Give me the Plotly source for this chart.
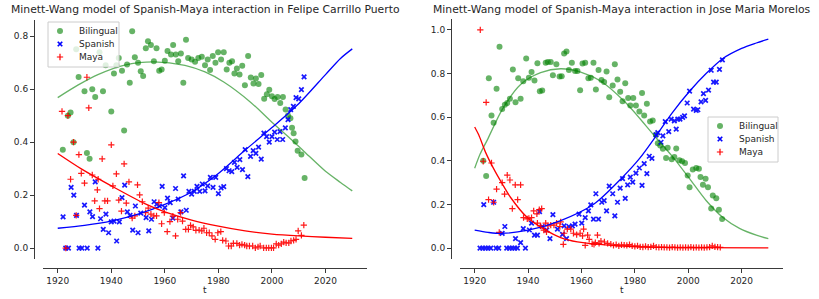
import plotly.graph_objects as go

# ---------------- Felipe Carrillo Puerto (left) ----------------
fcp_bil_t = [1921.9,1923.8,1924.8,1925.9,1926.9,1927.8,1930.0,1930.9,1931.9,1932.9,1934.0,1935.6,1936.9,1937.9,1940.0,
             1941.0,1941.9,1942.8,1944.0,1944.8,1945.9,1946.9,1947.8,1948.8,1950.0,1951.0,1951.9,1952.9,1953.7,1954.8,
             1955.9,1956.9,1957.9,1958.8,1960.0,1961.0,1962.3,1963.1,1964.1,1965.0,1966.0,1966.9,1967.9,1968.7,1970.0,
             1971.3,1972.5,1973.8,1975.0,1976.0,1976.9,1977.9,1978.9,1979.9,1981.0,1982.0,1983.1,1984.1,1985.1,1986.0,
             1986.9,1987.9,1988.9,1989.9,1991.1,1992.1,1993.1,1994.0,1995.0,1996.0,1997.1,1998.1,1999.0,2000.0,2001.0,
             2002.1,2003.1,2004.1,2005.1,2006.0,2006.9,2007.5,2008.1,2008.8,2009.6,2011.0,2012.2]
fcp_bil_v = [0.371,0.50,0.512,0.40,0.751,0.646,0.592,0.359,0.337,0.60,0.57,0.739,0.592,0.69,0.516,
             0.659,0.69,0.718,0.669,0.444,0.693,0.624,0.819,0.72,0.70,0.668,0.65,0.754,0.781,0.767,
             0.705,0.754,0.669,0.674,0.707,0.744,0.731,0.767,0.731,0.705,0.735,0.624,0.786,0.718,0.712,
             0.703,0.718,0.722,0.69,0.712,0.672,0.725,0.70,0.739,0.712,0.739,0.674,0.70,0.705,0.659,
             0.678,0.655,0.688,0.615,0.725,0.644,0.621,0.64,0.619,0.653,0.564,0.581,0.598,0.573,0.563,
             0.57,0.548,0.57,0.523,0.501,0.49,0.454,0.434,0.402,0.368,0.353,0.265]

fcp_spa_t = [1922,1923,1924,1925,1926,1927,1928,1929,1930,1931,1932,1933,1934,1935,1936,1937,1938,1939,1940,1941,
             1942,1943,1944,1945,1946,1947,1948,1949,1950,1951,1953,1954,1955,1956,1957,1958,1959,1960,1961,1962,
             1963,1964,1965,1966,1967,1968,1969,1970,1971,1972,1973,1974,1975,1976,1977,1978,1979,1980,1981,1982,
             1983,1984,1985,1986,1987,1988,1989,1990,1991,1992,1993,1994,1995,1996,1997,1998,1999,2000,2001,2002,
             2003,2004,2005,2006,2007,2008,2009,2010,2011,2012]
fcp_spa_v = [0.118,0.0,0.0,0.229,0.20,0.124,0.0,0.0,0.162,0.0,0.137,0.119,0.25,0.0,0.111,0.071,0.128,0.058,0.099,0.102,
             0.027,0.099,0.191,0.238,0.137,0.124,0.068,0.159,0.058,0.132,0.115,0.065,0.109,0.175,0.166,0.159,0.233,0.153,0.189,0.172,
             0.113,0.225,0.185,0.137,0.273,0.143,0.214,0.204,0.214,0.233,0.214,0.242,0.216,0.235,0.267,0.229,0.267,0.206,0.227,0.232,
             0.30,0.292,0.289,0.324,0.305,0.334,0.296,0.372,0.27,0.346,0.368,0.358,0.381,0.336,0.434,0.421,0.40,0.421,0.438,0.41,
             0.44,0.41,0.454,0.485,0.523,0.535,0.568,0.563,0.598,0.646]

fcp_may_t = [1921.6,1923.0,1923.8,1924.8,1925.9,1926.9,1927.9,1928.8,1930.0,1930.9,1931.6,1932.9,1933.8,1934.8,1935.1,
             1935.6,1936.6,1937.6,1938.6,1940.0,1940.6,1941.9,1942.8,1943.8,1944.8,1945.6,1946.6,1947.8,1948.8,1949.8,
             1950.6,1951.6,1952.8,1953.8,1954.8,1955.9,1956.9,1957.8,1958.8,1959.8,1960.9,1961.9,1963.0,1964.0,1964.8,
             1965.9,1966.6,1967.8,1968.8,1969.6,1970.6,1971.6,1972.8,1973.8,1974.6,1975.6,1976.6,1977.6,1978.8,1979.8,
             1980.9,1981.6,1982.8,1983.8,1984.8,1985.6,1986.9,1987.9,1988.8,1989.8,1990.6,1991.6,1992.8,1993.8,1994.8,
             1995.6,1996.9,1997.9,1998.8,1999.8,2000.6,2001.6,2002.5,2003.5,2004.4,2005.3,2006.3,2007.1,2008.1,2009.0,
             2009.8,2011.0,2011.9]
fcp_may_v = [0.516,0.0,0.50,0.26,0.40,0.124,0.353,0.282,0.245,0.645,0.529,0.276,0.178,0.22,0.26,
             0.149,0.337,0.178,0.178,0.39,0.235,0.28,0.181,0.14,0.318,0.17,0.25,0.113,0.122,0.239,
             0.201,0.175,0.134,0.151,0.128,0.122,0.122,0.172,0.092,0.134,0.062,0.10,0.121,0.046,0.109,
             0.134,0.102,0.071,0.071,0.086,0.08,0.067,0.068,0.065,0.075,0.058,0.058,0.046,0.033,0.058,
             0.062,0.029,0.027,0.008,0.008,0.018,0.018,0.011,0.014,0.011,0.008,0.008,0.008,0.001,0.005,
             0.008,0.001,0.001,0.001,0.001,0.001,0.016,0.011,0.016,0.023,0.02,0.02,0.027,0.029,0.033,
             0.065,0.048,0.087]

# model curves
fcp_fit_bil_t = [1920,1927.5,1935,1945,1956,1967.5,1975,1982,1992,2000,2007,2012,2020,2025.6,2030]
fcp_fit_bil_v = [0.568,0.615,0.655,0.691,0.703,0.69,0.665,0.627,0.551,0.475,0.412,0.365,0.29,0.248,0.216]
fcp_fit_spa_t = [1920,1930,1940,1950,1960,1970,1980,1990,2000,2010,2020,2025.6,2030]
fcp_fit_spa_v = [0.075,0.086,0.102,0.128,0.165,0.212,0.282,0.37,0.455,0.545,0.655,0.716,0.752]
fcp_fit_may_t = [1920,1928.8,1940,1952.5,1960,1970,1980,1990,2000,2010,2020,2030]
fcp_fit_may_v = [0.357,0.299,0.235,0.168,0.137,0.106,0.083,0.065,0.053,0.046,0.041,0.037]

# ---------------- Jose Maria Morelos (right) ----------------
jmm_bil_t = [1923.2,1924.3,1925.3,1926.3,1927.1,1928.2,1929.3,1930.3,1931.3,1932.2,1933.2,1934.3,1935.3,1936.3,1937.2,
             1938.2,1939.3,1940.3,1941.3,1942.4,1943.5,1944.4,1945.3,1946.6,1947.4,1948.5,1949.3,1950.6,1951.8,1952.6,
             1953.5,1954.4,1955.3,1956.4,1957.6,1958.5,1959.5,1960.4,1961.4,1962.6,1963.5,1964.5,1965.4,1966.4,1967.5,
             1968.5,1969.4,1970.4,1971.7,1972.5,1973.5,1974.5,1975.4,1976.4,1977.5,1978.3,1979.4,1980.4,1981.7,1982.7,
             1983.5,1984.5,1985.7,1986.7,1987.9,1988.6,1989.5,1990.5,1991.7,1992.3,1993.8,1994.8,1995.5,1996.7,1997.7,
             1998.8,1999.8,2000.5,2001.7,2003.0,2004.0,2004.6,2005.5,2006.5,2007.4,2008.6,2009.2,2010.5,2011.5,2012.7]
jmm_bil_v = [0.40,0.33,0.778,0.608,0.575,0.73,0.923,0.637,0.657,0.665,0.684,0.819,0.668,0.778,0.684,
             0.765,0.869,0.781,0.807,0.768,0.847,0.719,0.722,0.85,0.853,0.853,0.792,0.843,0.786,0.788,
             0.892,0.901,0.816,0.85,0.812,0.812,0.724,0.846,0.85,0.778,0.781,0.85,0.727,0.816,0.77,
             0.761,0.809,0.691,0.745,0.843,0.773,0.716,0.673,0.755,0.688,0.654,0.688,0.653,0.626,0.711,
             0.608,0.662,0.58,0.585,0.519,0.48,0.47,0.455,0.413,0.46,0.407,0.418,0.457,0.403,0.398,
             0.39,0.333,0.279,0.36,0.367,0.364,0.326,0.29,0.318,0.279,0.182,0.241,0.228,0.176,0.133]

jmm_spa_t = [1922,1923,1923.4,1924,1925,1926,1927.1,1928,1929,1930.3,1931.3,1932,1933,1934,1935,1935.3,1936,1937.2,
             1938.2,1939,1940.5,1941.3,1942.4,1943.5,1944.3,1945.3,1947.0,1948.2,1949.3,1951.0,1952.9,1953.5,1954.4,
             1955.3,1956.6,1957.6,1959.1,1960.1,1961.4,1962.6,1963.5,1964.5,1965.4,1966.4,1967.6,1968.5,1969.4,1970.4,
             1971.7,1972.5,1973.5,1974.5,1975.4,1976.4,1977.3,1978.3,1979.2,1980.4,1981.7,1982.7,1983.5,1984.5,1985.4,
             1986.4,1987.9,1988.6,1989.8,1990.5,1991.4,1992.7,1993.6,1994.8,1995.5,1996.1,1996.9,1997.9,1998.6,1999.6,
             2000.5,2002.0,2003.0,2003.6,2004.8,2005.7,2006.5,2007.6,2008.6,2009.5,2010.5,2011.7,2012.8]
jmm_spa_v = [0.0,0.0,0.199,0.0,0.0,0.0,0.21,0.0,0.0,0.067,0.099,0.0,0.0,0.0,0.0,0.043,0.0,0.025,
             0.089,0.0,0.083,0.114,0.059,0.059,0.167,0.099,0.083,0.043,0.153,0.087,0.063,0.102,0.043,
             0.099,0.102,0.11,0.156,0.114,0.14,0.171,0.198,0.133,0.249,0.133,0.21,0.218,0.171,0.284,
             0.249,0.148,0.21,0.275,0.318,0.228,0.29,0.325,0.302,0.344,0.367,0.287,0.387,0.341,0.421,
             0.411,0.519,0.529,0.485,0.514,0.58,0.534,0.591,0.583,0.545,0.591,0.591,0.599,0.606,0.665,
             0.719,0.637,0.631,0.634,0.67,0.708,0.677,0.724,0.815,0.761,0.761,0.819,0.863]

jmm_may_t = [1922.1,1923.2,1924.3,1925.2,1926.3,1927.1,1928.2,1929.2,1930.3,1931.2,1932.2,1933.2,1934.1,1935.2,1936.1,
             1937.2,1938.3,1939.7,1940.3,1941.3,1942.1,1943.3,1943.5,1944.2,1944.7,1945.1,1945.9,1946.6,1946.9,1947.4,
             1948.5,1949.7,1950.7,1951.9,1952.2,1953.2,1953.5,1954.7,1956.0,1957.0,1958.2,1959.5,1960.4,1960.8,1961.4,
             1962.3,1962.9,1964.0,1964.7,1965.2,1966.0,1966.6,1967.3,1968.6,1969.8,1971,1972,1973,1974,1975,
             1976,1977,1978,1979,1980,1981,1982,1983,1984,1985,1986,1987,1988,1989,1990,
             1991,1992,1993,1994,1995,1996,1997,1998,1999,2000,2001,2002,2003,2004,2005,
             2006,2007,2008,2009,2010,2011,2012]
jmm_may_v = [1.0,0.398,0.668,0.222,0.39,0.21,0.27,0.072,0.30,0.247,0.334,0.312,0.181,0.29,0.222,
             0.29,0.14,0.134,0.136,0.14,0.171,0.157,0.114,0.176,0.102,0.181,0.082,0.114,0.074,0.102,
             0.105,0.105,0.114,0.099,0.12,0.017,0.068,0.087,0.087,0.068,0.062,0.068,0.056,0.087,0.012,
             0.059,0.04,0.02,0.017,0.025,0.059,0.022,0.032,0.028,0.022,0.018,0.012,0.016,0.01,0.015,
             0.014,0.012,0.016,0.01,0.008,0.01,0.006,0.005,0.008,0.004,0.006,0.01,0.004,0.003,0.004,
             0.003,0.003,0.002,0.004,0.003,0.002,0.003,0.002,0.003,0.002,0.004,0.002,0.003,0.002,0.003,
             0.002,0.003,0.004,0.01,0.006,0.004,0.003]

jmm_fit_bil_t = [1920,1922,1924.7,1930.3,1937.2,1944.7,1952.2,1959.7,1967.3,1976.7,1987.3,1994.2,2000.5,2006.7,2013,2019.2,2025.5,2030]
jmm_fit_bil_v = [0.366,0.43,0.495,0.635,0.75,0.804,0.822,0.807,0.765,0.665,0.515,0.418,0.318,0.218,0.14,0.09,0.059,0.043]
jmm_fit_spa_t = [1920,1925,1930,1940,1952,1964.7,1975.4,1981.7,1988,1994,2000.5,2006.7,2013,2020,2025.5,2030]
jmm_fit_spa_v = [0.082,0.072,0.067,0.082,0.125,0.202,0.325,0.41,0.515,0.62,0.719,0.80,0.869,0.915,0.94,0.958]
jmm_fit_may_t = [1920,1921.5,1924,1927.1,1930.3,1933.4,1939.7,1946,1952.2,1958.5,1971,1985,2000,2030]
jmm_fit_may_v = [0.555,0.519,0.441,0.364,0.295,0.233,0.14,0.087,0.048,0.028,0.012,0.004,0.002,0.001]

x_ticks = [1920, 1940, 1960, 1980, 2000, 2020]
series_names = ["Bilingual", "Spanish", "Maya"]
titles = ["Minett-Wang model of Spanish-Maya interaction in Felipe Carrillo Puerto",
          "Minett-Wang model of Spanish-Maya interaction in Jose Maria Morelos"]
x_label = "t"

GREEN = "rgba(0,128,0,0.6)"
BLUE = "#0000ff"
RED = "#ff0000"
TXT = "#262626"
FONT = "DejaVu Sans"
COLORS = [GREEN, BLUE, RED]

W, H = 819, 299
fig = go.Figure()

def marker_style(i):
    if i == 0:
        return dict(symbol="circle", size=6, color=GREEN, line=dict(width=0))
    if i == 1:
        return dict(symbol="x-thin", size=4.5, color=BLUE, line=dict(width=1.7, color=BLUE))
    return dict(symbol="cross-thin", size=4.5, color=RED, line=dict(width=1.2, color=RED))

def add_panel(xa, ya, scat, fits):
    for i, (t, v) in enumerate(scat):
        fig.add_trace(go.Scatter(x=t, y=v, mode="markers", name=series_names[i],
                                 marker=marker_style(i), opacity=1 if i == 0 else 0.9,
                                 showlegend=False, xaxis=xa, yaxis=ya))
    for i, (t, v) in enumerate(fits):
        fig.add_trace(go.Scatter(x=t, y=v, mode="lines",
                                 line=dict(color=COLORS[i], width=1.3, shape="spline", smoothing=0.8),
                                 showlegend=False, hoverinfo="skip", xaxis=xa, yaxis=ya))

add_panel("x", "y",
          [(fcp_bil_t, fcp_bil_v), (fcp_spa_t, fcp_spa_v), (fcp_may_t, fcp_may_v)],
          [(fcp_fit_bil_t, fcp_fit_bil_v), (fcp_fit_spa_t, fcp_fit_spa_v), (fcp_fit_may_t, fcp_fit_may_v)])
add_panel("x2", "y2",
          [(jmm_bil_t, jmm_bil_v), (jmm_spa_t, jmm_spa_v), (jmm_may_t, jmm_may_v)],
          [(jmm_fit_bil_t, jmm_fit_bil_v), (jmm_fit_spa_t, jmm_fit_spa_v), (jmm_fit_may_t, jmm_fit_may_v)])

# ---- compact matplotlib-like legends drawn on a pixel overlay axis ----
legend_boxes = [(48, 22, 119, 67), (708, 117, 778, 162)]   # left, top, right, bottom in px
for (l, t, r, b) in legend_boxes:
    fig.add_trace(go.Scatter(x=[l, r, r, l, l], y=[t, t, b, b, t], mode="lines", fill="toself",
                             fillcolor="rgba(255,255,255,0.8)", line=dict(color="#cccccc", width=1),
                             showlegend=False, hoverinfo="skip", xaxis="x3", yaxis="y3"))
    for i, name in enumerate(series_names):
        ry = t + 9 + 13 * i
        fig.add_trace(go.Scatter(x=[l + 12], y=[ry], mode="markers", marker=marker_style(i),
                                 showlegend=False, hoverinfo="skip", xaxis="x3", yaxis="y3"))
        fig.add_annotation(text=name, x=(l + 29) / W, y=(H - ry) / H, xref="paper", yref="paper",
                           xanchor="left", yanchor="middle", showarrow=False,
                           font=dict(family=FONT, size=9, color=TXT))

axis_common = dict(showgrid=False, zeroline=False, showline=True, linecolor="#3a3a3a", linewidth=1,
                   ticks="outside", ticklen=4, tickwidth=1, tickcolor="#3a3a3a",
                   tickfont=dict(family=FONT, size=9, color=TXT))

fig.update_layout(
    width=W, height=H, margin=dict(l=0, r=0, t=0, b=0),
    paper_bgcolor="white", plot_bgcolor="rgba(0,0,0,0)",
    xaxis=dict(domain=[43 / W, 367 / W], anchor="free", position=(H - 268) / H,
               range=[1914.5, 2035.5], tickvals=x_ticks, **axis_common),
    yaxis=dict(domain=[(H - 259) / H, (H - 20) / H], anchor="free", position=34 / W,
               range=[-0.041, 0.861], tickvals=[0, 0.2, 0.4, 0.6, 0.8], tickformat=".1f", **axis_common),
    xaxis2=dict(domain=[460 / W, 783 / W], anchor="free", position=(H - 268) / H,
                range=[1914.5, 2035.5], tickvals=x_ticks, **axis_common),
    yaxis2=dict(domain=[(H - 259) / H, (H - 19) / H], anchor="free", position=451 / W,
                range=[-0.05, 1.05], tickvals=[0, 0.2, 0.4, 0.6, 0.8, 1.0], tickformat=".1f", **axis_common),
    xaxis3=dict(domain=[0, 1], range=[0, W], anchor="y3", visible=False, fixedrange=True),
    yaxis3=dict(domain=[0, 1], range=[H, 0], anchor="x3", visible=False, fixedrange=True),
    showlegend=False,
)

for cx, ttl in (((43 + 367) / 2 / W, titles[0]), ((460 + 783) / 2 / W, titles[1])):
    fig.add_annotation(text=ttl, x=cx, y=(H - 10) / H, xref="paper", yref="paper",
                       xanchor="center", yanchor="middle", showarrow=False,
                       font=dict(family=FONT, size=10.8, color=TXT))
    fig.add_annotation(text=x_label, x=cx, y=(H - 290) / H, xref="paper", yref="paper",
                       xanchor="center", yanchor="middle", showarrow=False,
                       font=dict(family=FONT, size=9, color=TXT))

fig.write_html("out.html", config={"displayModeBar": False},
               post_script="document.body.style.margin='0';")
